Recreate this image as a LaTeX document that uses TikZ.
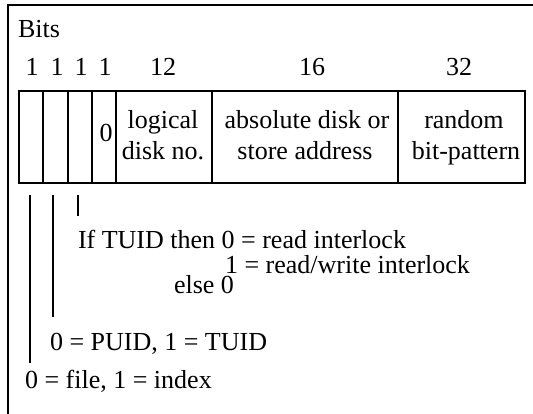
\documentclass[tikz,border=0pt]{standalone}
\usepackage{fontspec}
\setmainfont{Liberation Serif}
\begin{document}
\begin{tikzpicture}[x=1pt,y=-1pt,
  txt/.style={inner sep=0pt,outer sep=0pt,font=\fontsize{26}{26}\selectfont},
  lt/.style={txt,anchor=base west},
  ct/.style={txt,anchor=base},
  rule/.style={line width=2pt},
  fld/.style={line width=2pt}]
\useasboundingbox (0,0) rectangle (533,414);
% frame
\draw[rule] (533,5) -- (8,5) -- (8,414);
% title and widths
\node[lt] (bits) at (18,38) {Bits};
\node[ct] (w1) at (32,76) {1};
\node[ct] (w2) at (57,76) {1};
\node[ct] (w3) at (81,76) {1};
\node[ct] (w4) at (105,76) {1};
\node[ct] (w12) at (163,76) {12};
\node[ct] (w16) at (312,76) {16};
\node[ct] (w32) at (459,76) {32};
% record box
\draw[fld] (19,91) rectangle (525,183);
\foreach \xx in {43,68,92,116,212,398} \draw[fld] (\xx,91) -- (\xx,183);
\node[ct] (zero) at (106,142) {0};
\node[ct] (log1) at (163,129) {logical};
\node[ct] (log2) at (163,160) {disk no.};
\node[ct] (abs1) at (307,129) {absolute disk or};
\node[ct] (abs2) at (305,160) {store address};
\node[ct] (rnd1) at (464,129) {random};
\node[ct] (rnd2) at (466,160) {bit-pattern};
% explanations
\coordinate (a1) at (30,195); \coordinate (a2) at (30,363);
\coordinate (b1) at (53,195); \coordinate (b2) at (53,317);
\coordinate (c1) at (78,195); \coordinate (c2) at (78,216);
\draw[rule] (a1) -- (a2);
\draw[rule] (b1) -- (b2);
\draw[rule] (c1) -- (c2);
\node[lt,text depth=0pt] (e1) at (78,249) {If TUID then 0 = read interlock};
\node[lt,text height=18pt,text depth=2pt] (e2) at (225,273) {1 = read/write interlock};
\node[lt,text height=18pt] (e3) at (174,294) {else 0};
\node[lt] (p1) at (50,350) {0 = PUID, 1 = TUID};
\node[lt] (f1) at (25,388) {0 = file, 1 = index};
\end{tikzpicture}
\end{document}
